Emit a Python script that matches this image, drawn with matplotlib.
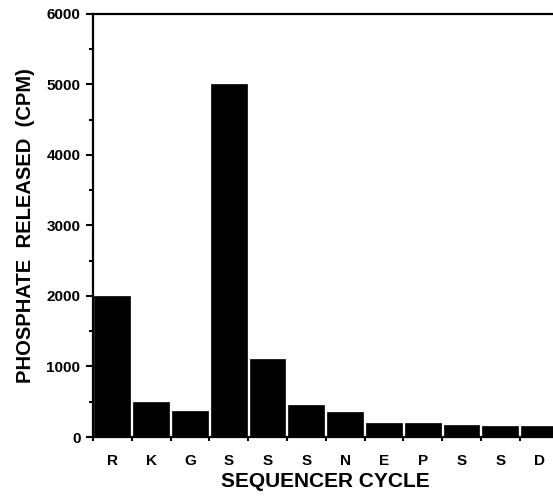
import matplotlib.pyplot as plt
import numpy as np

# sequencer cycles and phosphate released
residues = ['R', 'K', 'G', 'S', 'S', 'S', 'N', 'E', 'P', 'S', 'S', 'D']
cpm = [2000, 500, 370, 5000, 1110, 460, 360, 205, 200, 175, 150, 150]

plt.rcParams['font.family'] = ['Liberation Sans', 'DejaVu Sans']
plt.rcParams['font.weight'] = 'bold'

fig = plt.figure(figsize=(5.53, 4.99), dpi=100)
ax = fig.add_axes([0.168, 0.1242, 0.842, 0.848])

x = np.arange(len(residues))
ax.bar(x, cpm, width=0.92, color='black', edgecolor='black', linewidth=0.5)

ax.set_xlim(-0.5, len(residues) - 0.5)
ax.set_ylim(0, 6000)

ax.set_yticks(np.arange(0, 6001, 1000))
ax.set_yticks(np.arange(500, 6000, 1000), minor=True)
ax.set_xticks(x)
ax.set_xticklabels(residues)
ax.set_xticks(np.arange(-0.5, len(residues) - 0.5, 1.0), minor=True)

ax.tick_params(axis='y', which='major', direction='out', length=5, width=1.5,
               labelsize=11, pad=4)
ax.tick_params(axis='y', which='minor', direction='out', length=3, width=1.5)
ax.tick_params(axis='x', which='major', length=0, labelsize=11, pad=12)
ax.tick_params(axis='x', which='minor', direction='out', length=3, width=1.5)

for lab in ax.get_xticklabels() + ax.get_yticklabels():
    lab.set_fontweight('bold')

for s in ['left', 'top', 'bottom', 'right']:
    ax.spines[s].set_linewidth(1.6)

ax.set_ylabel('PHOSPHATE  RELEASED  (CPM)', fontsize=14.5, fontweight='bold', labelpad=8)
ax.set_xlabel('SEQUENCER CYCLE', fontsize=15, fontweight='bold', labelpad=3)

fig.savefig('out.png', dpi=100)
